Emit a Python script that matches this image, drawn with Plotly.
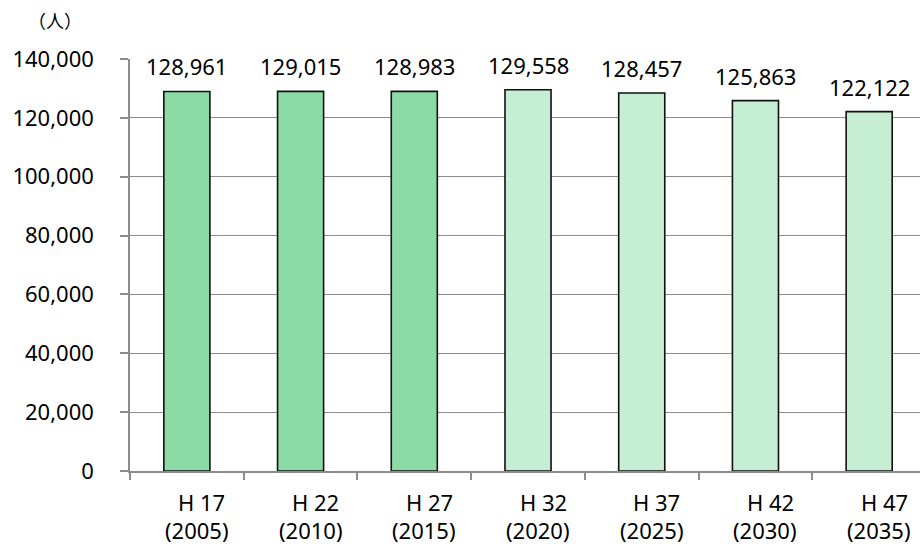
import plotly.graph_objects as go

# Population by census / projection year
era_labels = ["H 17", "H 22", "H 27", "H 32", "H 37", "H 42", "H 47"]
year_labels = ["(2005)", "(2010)", "(2015)", "(2020)", "(2025)", "(2030)", "(2035)"]
population = [128961, 129015, 128983, 129558, 128457, 125863, 122122]
is_projection = [False, False, False, True, True, True, True]

ACTUAL_COLOR = "#8cdaa6"
PROJ_COLOR = "#c6eed3"
FONT = "Noto Sans"
FSIZE = 22

x_idx = list(range(len(population)))
colors = [PROJ_COLOR if p else ACTUAL_COLOR for p in is_projection]

fig = go.Figure()
fig.add_trace(go.Bar(
    x=x_idx,
    y=population,
    width=0.405,
    marker=dict(color=colors, line=dict(color="#111111", width=1.6)),
    hoverinfo="skip",
))

annotations = []
# value labels above each bar
for i, v in zip(x_idx, population):
    annotations.append(dict(
        x=i, y=v, xref="x", yref="y", text=f"{v:,}", showarrow=False,
        yanchor="middle", yshift=25, font=dict(family=FONT, size=FSIZE, color="#000000"),
    ))
# two-line category labels under the axis
for i, (era, yr) in zip(x_idx, zip(era_labels, year_labels)):
    annotations.append(dict(
        x=i, y=0, xref="x", yref="paper", text=era, showarrow=False,
        yanchor="middle", yshift=-31, xshift=15,
        font=dict(family=FONT, size=FSIZE, color="#000000"),
    ))
    annotations.append(dict(
        x=i, y=0, xref="x", yref="paper", text=yr, showarrow=False,
        yanchor="middle", yshift=-59, xshift=10,
        font=dict(family=FONT, size=FSIZE, color="#000000"),
    ))
# unit label, top left above the value axis
annotations.append(dict(
    xref="paper", yref="paper", x=(55 - 130) / 790, y=(471 - 20) / 412,
    xanchor="center", yanchor="middle",
    text="（人）", showarrow=False,
    font=dict(family="Noto Sans CJK JP", size=18, color="#000000"),
))

fig.update_layout(
    width=920, height=546,
    margin=dict(l=130, r=0, t=59, b=75),
    paper_bgcolor="white", plot_bgcolor="white",
    showlegend=False,
    annotations=annotations,
    xaxis=dict(
        range=[-0.5, 6.447],
        tickvals=[i + 0.5 for i in range(-1, len(population))],
        ticktext=[""] * (len(population) + 1),
        ticks="outside", ticklen=7, tickcolor="#8c8c8c", tickwidth=1.5,
        showline=True, linecolor="#8c8c8c", linewidth=1.5,
        showgrid=False, zeroline=False,
    ),
    yaxis=dict(
        range=[0, 140000],
        tickvals=[0, 20000, 40000, 60000, 80000, 100000, 120000, 140000],
        tickformat=",d",
        ticks="outside", ticklen=8, tickcolor="#8c8c8c", tickwidth=1.5,
        ticklabelstandoff=22,
        showline=True, linecolor="#8c8c8c", linewidth=1.5,
        showgrid=True, gridcolor="#8c8c8c", gridwidth=1.3,
        zeroline=False,
        tickfont=dict(family=FONT, size=FSIZE, color="#000000"),
    ),
)

fig.write_html("out.html")
